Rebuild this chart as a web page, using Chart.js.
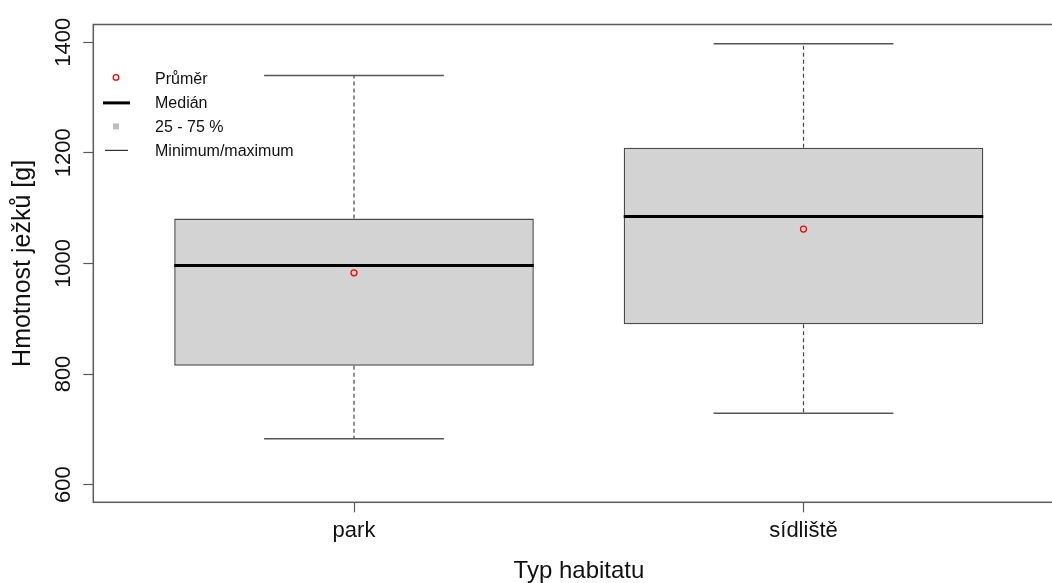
<!DOCTYPE html>
<html>
<head>
<meta charset="utf-8">
<script src="https://cdn.jsdelivr.net/npm/chart.js@4.4.1/dist/chart.umd.min.js"></script>
<style>
  html, body { margin: 0; padding: 0; background: #ffffff; width: 1052px; height: 583px; overflow: hidden; }
  canvas { display: block; }
</style>
</head>
<body>
<canvas id="chart" width="1070" height="583"></canvas>
<script>
// Hedgehog body mass by habitat type: five-number summary plus mean
const categories = ['park', 'sídliště'];
const minimum = [683, 729];
const lowerQuartile = [815, 890];
const median = [996, 1085];
const mean = [983, 1062];
const upperQuartile = [1081, 1209];
const maximum = [1340, 1397];
const yTicks = [600, 800, 1000, 1200, 1400];
const legendLabels = ['Průměr', 'Medián', '25 - 75 %', 'Minimum/maximum'];
const xTitle = 'Typ habitatu';
const yTitle = 'Hmotnost ježků [g]';

// Group positions on the x axis and drawing constants
const positions = categories.map((_, i) => i + 1);
const BOX_HALF = 0.4;
const CAP_HALF = 0.2;
const X_MIN = 0.42;
const GROUP_PX = 449.5;   // horizontal pixels per group step
const FONT = '"Liberation Sans", Arial, sans-serif';

// Build one line dataset made of separate horizontal/vertical segments
function segmentData(segs) {
  const out = [];
  segs.forEach((s, i) => {
    if (i > 0) out.push({ x: s[0].x, y: null });
    out.push(s[0], s[1]);
  });
  return out;
}

const medianSegs = positions.map((p, i) => [
  { x: p - BOX_HALF, y: median[i] }, { x: p + BOX_HALF, y: median[i] }
]);
const capSegs = [];
positions.forEach((p, i) => {
  capSegs.push([{ x: p - CAP_HALF, y: minimum[i] }, { x: p + CAP_HALF, y: minimum[i] }]);
  capSegs.push([{ x: p - CAP_HALF, y: maximum[i] }, { x: p + CAP_HALF, y: maximum[i] }]);
});
const stemSegs = [];
positions.forEach((p, i) => {
  stemSegs.push([{ x: p, y: upperQuartile[i] }, { x: p, y: maximum[i] }]);
  stemSegs.push([{ x: p, y: lowerQuartile[i] }, { x: p, y: minimum[i] }]);
});

// Frame around the plotting region
const framePlugin = {
  id: 'frame',
  afterDraw(chart) {
    const { ctx, chartArea: a } = chart;
    ctx.save();
    ctx.strokeStyle = '#5a5a5a';
    ctx.lineWidth = 1.5;
    ctx.strokeRect(a.left, a.top, a.right - a.left, a.bottom - a.top);
    ctx.restore();
  }
};

// Key in the upper-left corner of the plot
const keyPlugin = {
  id: 'key',
  afterDraw(chart) {
    const { ctx } = chart;
    const symX = 116, textX = 155, rowY = 79.4, step = 24;
    ctx.save();
    // mean marker
    ctx.beginPath();
    ctx.arc(symX, rowY - 2, 2.8, 0, Math.PI * 2);
    ctx.strokeStyle = '#ff0000';
    ctx.lineWidth = 1.3;
    ctx.stroke();
    // median line
    ctx.beginPath();
    ctx.moveTo(103, rowY + step - 0.5);
    ctx.lineTo(130, rowY + step - 0.5);
    ctx.strokeStyle = '#000';
    ctx.lineWidth = 3;
    ctx.stroke();
    // quartile box swatch
    ctx.fillStyle = '#bdbdbd';
    ctx.fillRect(symX - 3, rowY + 2 * step - 4, 6, 6);
    // min/max line
    ctx.beginPath();
    ctx.moveTo(105, rowY + 3 * step - 1);
    ctx.lineTo(128, rowY + 3 * step - 1);
    ctx.strokeStyle = '#333';
    ctx.lineWidth = 1.2;
    ctx.stroke();
    ctx.fillStyle = '#111';
    ctx.font = '16px ' + FONT;
    ctx.textBaseline = 'middle';
    ctx.textAlign = 'left';
    legendLabels.forEach((t, i) => ctx.fillText(t, textX, rowY + i * step));
    ctx.restore();
  }
};

new Chart(document.getElementById('chart'), {
  type: 'bar',
  data: {
    datasets: [
      {
        type: 'scatter',
        label: legendLabels[0],
        data: positions.map((p, i) => ({ x: p, y: mean[i] })),
        pointStyle: 'circle',
        pointRadius: 3,
        pointBorderWidth: 1.3,
        pointBorderColor: '#ff0000',
        pointBackgroundColor: 'rgba(0,0,0,0)',
        order: 1
      },
      {
        type: 'line',
        label: legendLabels[1],
        data: segmentData(medianSegs),
        borderColor: '#000',
        borderWidth: 3,
        pointRadius: 0,
        spanGaps: false,
        order: 2
      },
      {
        type: 'line',
        label: legendLabels[3],
        data: segmentData(capSegs),
        borderColor: '#555',
        borderWidth: 1.5,
        pointRadius: 0,
        spanGaps: false,
        order: 3
      },
      {
        type: 'line',
        label: 'whiskers',
        data: segmentData(stemSegs),
        borderColor: '#444',
        borderWidth: 1.2,
        borderDash: [4, 3],
        pointRadius: 0,
        spanGaps: false,
        order: 4
      },
      {
        type: 'bar',
        label: legendLabels[2],
        data: positions.map((p, i) => ({ x: p, y: [lowerQuartile[i], upperQuartile[i]] })),
        backgroundColor: '#d3d3d3',
        borderColor: '#4a4a4a',
        borderWidth: 1.5,
        borderSkipped: false,
        barPercentage: 2 * BOX_HALF,
        categoryPercentage: 1,
        order: 5
      }
    ]
  },
  options: {
    responsive: false,
    devicePixelRatio: 1,
    animation: false,
    events: [],
    layout: { padding: { top: 24.5, left: 0, right: 0, bottom: 0 } },
    plugins: { legend: { display: false }, tooltip: { enabled: false } },
    scales: {
      x: {
        type: 'linear',
        position: 'bottom',
        offset: false,
        bounds: 'data',
        afterDataLimits(scale) {
          scale.min = X_MIN;
          scale.max = X_MIN + scale.width / GROUP_PX;
        },
        afterBuildTicks(scale) { scale.ticks = positions.map(v => ({ value: v })); },
        afterFit(scale) { scale.height = 80.7; },
        ticks: {
          color: '#111',
          font: { family: FONT, size: 22 },
          padding: 5.4,
          maxRotation: 0,
          autoSkip: false,
          callback: (v) => categories[positions.indexOf(v)] ?? ''
        },
        grid: { display: true, offset: false, drawOnChartArea: false, drawTicks: true, tickLength: 10, tickColor: '#5a5a5a', tickWidth: 1.2 },
        border: { display: false },
        title: { display: true, text: xTitle, color: '#111', font: { family: FONT, size: 24, lineHeight: 1 }, padding: { top: 0, bottom: 0 } }
      },
      y: {
        type: 'linear',
        position: 'left',
        min: 568,
        max: 1432,
        afterBuildTicks(scale) { scale.ticks = yTicks.map(v => ({ value: v })); },
        afterFit(scale) { scale.width = 93.3; },
        ticks: {
          color: '#111',
          font: { family: FONT, size: 22 },
          minRotation: 90,
          maxRotation: 90,
          crossAlign: 'center',
          padding: -5,
          autoSkip: false,
          callback: (v) => String(v)
        },
        grid: { display: true, drawOnChartArea: false, drawTicks: true, tickLength: 10, tickColor: '#5a5a5a', tickWidth: 1.2 },
        border: { display: false },
        title: { display: true, text: yTitle, color: '#111', font: { family: FONT, size: 25 }, padding: { top: 8, bottom: 0 } }
      }
    }
  },
  plugins: [framePlugin, keyPlugin]
});
</script>
</body>
</html>
